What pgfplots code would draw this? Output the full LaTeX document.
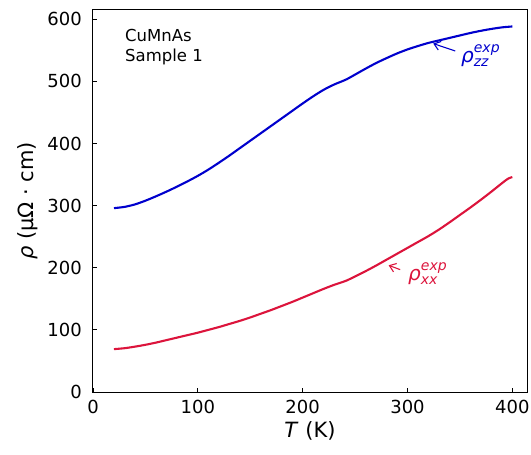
\documentclass[border=0pt]{standalone}
\usepackage{amsmath}
\usepackage{fontspec}
\setmainfont{DejaVu Sans}
\usepackage{pgfplots}
\usepackage{pgfplotstable}
\usetikzlibrary{arrows.meta}
\pgfplotsset{compat=1.18}
\definecolor{zzblue}{HTML}{0000CD}
\definecolor{xxred}{HTML}{DC143C}
\pgfplotstableread{
T rho
20 296
30 298
40 302
50 308
60 315
70 322.5
80 330.5
90 339
100 348
110 358
120 369
130 380.5
140 392.5
150 404.5
160 416.5
170 428.5
180 440.5
190 452.5
200 464.5
210 476
220 486.5
230 495
238 500.5
242 503.5
250 511
260 520.5
270 529.5
280 537.5
290 545
300 551.5
310 557
320 562
330 566
340 570
350 574
360 578
370 581.5
380 584.5
390 587
400 588.5
}\zz
\pgfplotstableread{
T rho
20 69
30 70.5
40 73
50 76
60 79.5
70 83.5
80 87.5
90 91.5
100 95.5
110 100
120 104.5
130 109.5
140 114.5
150 120
160 126
170 132
180 138.5
190 145
200 152
210 159
220 166
230 172.5
238 177
242 179.5
250 186
260 194.5
270 203.5
280 213
290 222.5
300 232
310 241.5
320 251
330 261.5
340 273
350 285
360 297
370 309.5
380 322.5
390 336
396 343.5
400 346
}\xx
\begin{document}
\begin{tikzpicture}
\begin{axis}[
  at={(0,0)}, anchor=south west,
  scale only axis,
  width=434bp, height=382bp,
  xmin=0, xmax=414, ymin=0, ymax=615,
  xtick={0,100,200,300,400},
  ytick={0,100,200,300,400,500,600},
  tick align=inside,
  xtick pos=bottom, ytick pos=left,
  major tick length=4bp,
  axis line style={line width=1bp},
  tick style={line width=0.9bp, black},
  /pgf/number format/assume math mode=true,
  tick label style={font=\fontsize{18bp}{21bp}\selectfont},
  xticklabel style={inner sep=0pt, yshift=-8bp},
  yticklabel style={inner sep=0pt, xshift=-11bp},
  label style={font=\fontsize{21bp}{24bp}\selectfont},
  xlabel={\textit{T} (K)},
  ylabel={\textit{ρ} (μΩ · cm)},
  xlabel style={at={(ticklabel cs:0.5)}, anchor=north, yshift=-4bp},
  ylabel style={at={(ticklabel cs:0.5)}, anchor=south, yshift=6bp},
  clip=false,
]
\addplot[zzblue, line width=2.1bp, no markers, smooth, tension=0.5] table[x=T,y=rho] {\zz};
\addplot[xxred, line width=2.1bp, no markers, smooth, tension=0.5] table[x=T,y=rho] {\xx};
\node[anchor=north west, align=left, inner sep=0pt, font=\fontsize{16.5bp}{20bp}\selectfont] at (axis cs:30.5,584) {CuMnAs\\Sample 1};
\draw[zzblue, line width=1.1bp, -{Straight Barb[length=6bp,width=9bp]}] (axis cs:345.5,549) -- (axis cs:324.5,561);
\node[anchor=west, inner sep=0pt, text=zzblue, font=\fontsize{20bp}{24bp}\selectfont] at (axis cs:351,542) {$\textit{ρ}^{\textit{exp}}_{\textit{zz}}$};
\draw[xxred, line width=1.1bp, -{Straight Barb[length=6bp,width=9bp]}] (axis cs:293,197) -- (axis cs:282,204);
\node[anchor=west, inner sep=0pt, text=xxred, font=\fontsize{20bp}{24bp}\selectfont] at (axis cs:300.5,190) {$\textit{ρ}^{\textit{exp}}_{\textit{xx}}$};
\end{axis}
\pgfresetboundingbox
\path (-93bp,-63bp) rectangle (438bp,392bp);
\end{tikzpicture}
\end{document}
